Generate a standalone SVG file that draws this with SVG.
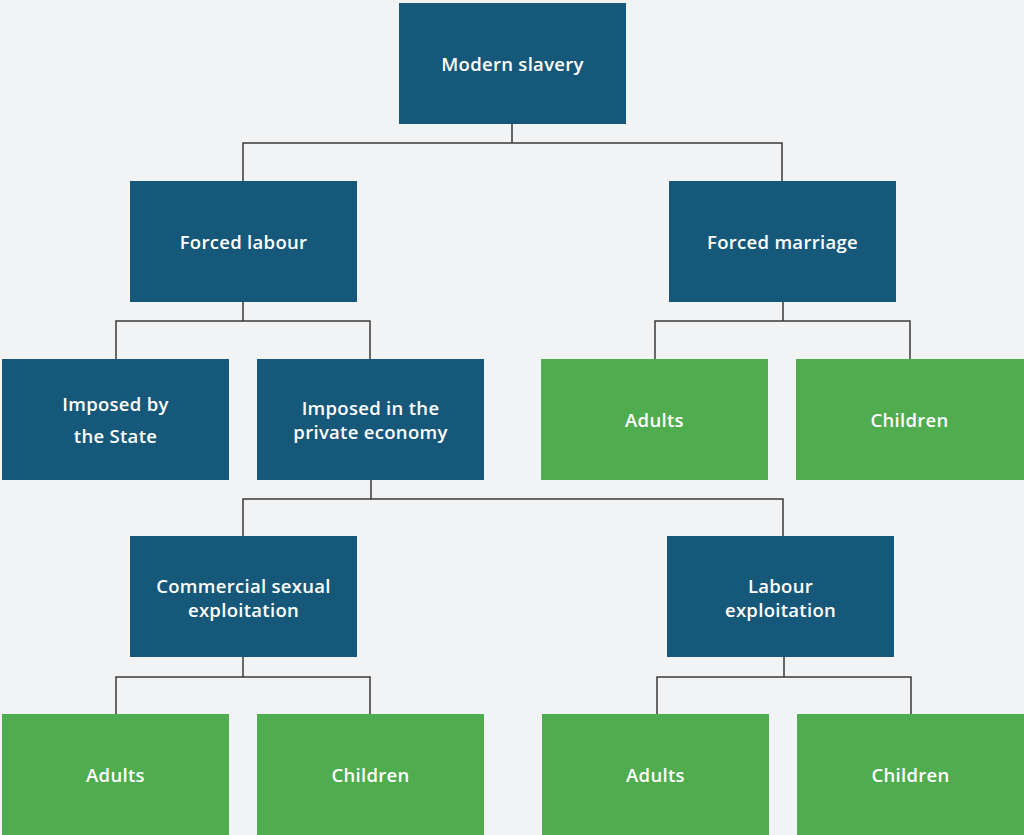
<svg xmlns="http://www.w3.org/2000/svg" width="1024" height="835" viewBox="0 0 1024 835">
<style>
.b{fill:#16587A}
.g{fill:#4FAC4F}
text{font-family:"Open Sans","Liberation Sans",sans-serif;font-size:18.5px;font-weight:600;fill:#FFFFFF;text-anchor:middle;dominant-baseline:central;letter-spacing:0.3px}
.c path{fill:none;stroke:#3a3a3a;stroke-width:1.5}
</style>
<rect width="1024" height="835" fill="#F2F3F5"/>
<g class="c" id="connectors">
<path d="M512 124V143M243 181V143H782V181"/>
<path d="M243 302V321M116 359V321H370V359"/>
<path d="M783 302V321M655 359V321H910V359"/>
<path d="M371 480V499M243 536V499H783V536"/>
<path d="M243 657V677M116 714V677H370V714"/>
<path d="M784 657V677M657 714V677H911V714"/>
</g>
<g id="modern-slavery"><rect class="b" x="399" y="3" width="227" height="121"/><text x="512.5" y="63">Modern slavery</text></g>
<g id="forced-labour"><rect class="b" x="130" y="181" width="227" height="121"/><text x="243.5" y="241">Forced labour</text></g>
<g id="forced-marriage"><rect class="b" x="669" y="181" width="227" height="121"/><text x="782.5" y="241">Forced marriage</text></g>
<g id="imposed-state"><rect class="b" x="2" y="359" width="227" height="121"/><text x="115.5" y="403">Imposed by</text><text x="115.5" y="435">the State</text></g>
<g id="imposed-private"><rect class="b" x="257" y="359" width="227" height="121"/><text x="370.5" y="407">Imposed in the</text><text x="370.5" y="431">private economy</text></g>
<g id="fm-adults"><rect class="g" x="541" y="359" width="227" height="121"/><text x="654.5" y="419">Adults</text></g>
<g id="fm-children"><rect class="g" x="796" y="359" width="228" height="121"/><text x="909.5" y="419">Children</text></g>
<g id="commercial"><rect class="b" x="130" y="536" width="227" height="121"/><text x="243.5" y="585">Commercial sexual</text><text x="243.5" y="609">exploitation</text></g>
<g id="labour-exploitation"><rect class="b" x="667" y="536" width="227" height="121"/><text x="780.5" y="585">Labour</text><text x="780.5" y="609">exploitation</text></g>
<g id="cse-adults"><rect class="g" x="2" y="714" width="227" height="121"/><text x="115.5" y="774">Adults</text></g>
<g id="cse-children"><rect class="g" x="257" y="714" width="227" height="121"/><text x="370.5" y="774">Children</text></g>
<g id="le-adults"><rect class="g" x="542" y="714" width="227" height="121"/><text x="655.5" y="774">Adults</text></g>
<g id="le-children"><rect class="g" x="797" y="714" width="227" height="121"/><text x="910.5" y="774">Children</text></g>
</svg>
